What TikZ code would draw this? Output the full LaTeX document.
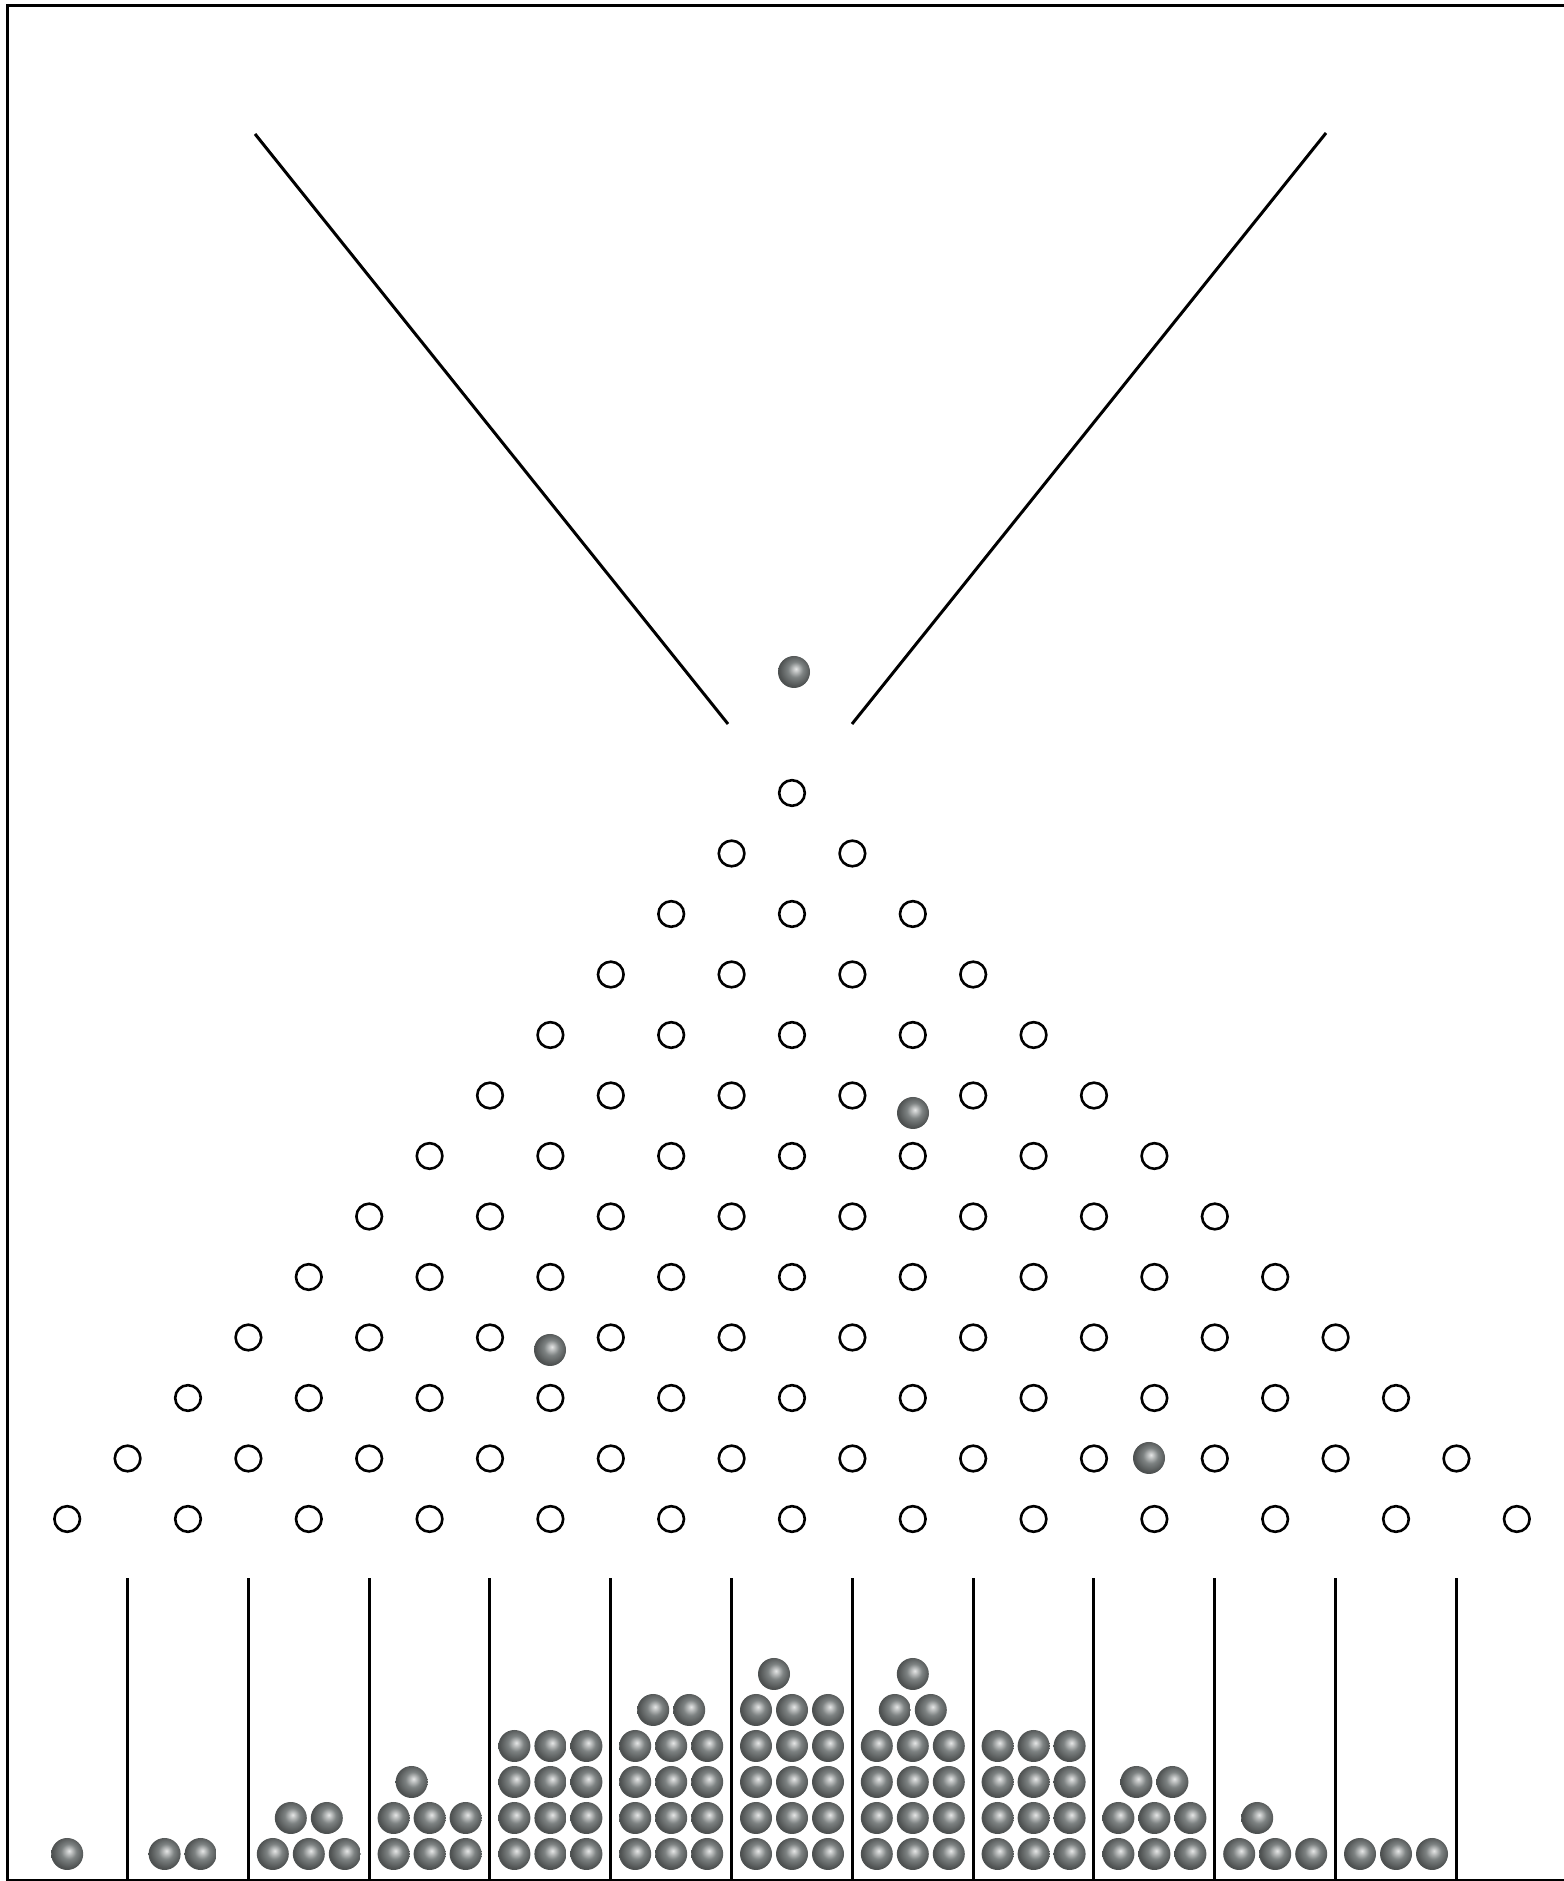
\documentclass[tikz,border=0pt]{standalone}
\usepackage{tikz}
\usepackage{xcolor}
\definecolor{ball_gray}{HTML}{7D8282}
\usetikzlibrary{calc}
\pgfdeclareradialshading{BALLSHADE}{\pgfpoint{3bp}{5bp}}{color(0bp)=(ball_gray!20!white); color(3bp)=(ball_gray!40!white); color(12bp)=(ball_gray); color(25bp)=(ball_gray!62!black); color(50bp)=(ball_gray!62!black)}
\tikzset{PEG/.style={circle,draw,line width=0.26mm,minimum size=2.56mm,inner sep=0pt}}
\tikzset{BALL/.style={circle,shading=BALLSHADE,minimum size=3.2mm,inner sep=0pt}}
\tikzset{WALL/.style={line width=0.3mm}}

\begin{document}
\begin{tikzpicture}[x=0.1mm,y=0.1mm]

\useasboundingbox (0,0) rectangle (1564,1881);

\draw[WALL] (1564,1875) -- (7,1875) -- (7,1) -- (1564,1);

\coordinate (c_funnel_left_top) at (255,1747);
\coordinate (c_funnel_left_end) at (728,1157);
\coordinate (c_funnel_right_top) at (1326,1748);
\coordinate (c_funnel_right_end) at (852,1157);
\draw[WALL] (c_funnel_left_top) -- (c_funnel_left_end);
\draw[WALL] (c_funnel_right_top) -- (c_funnel_right_end);

\node[BALL] (n_ball_drop) at (794,1209) {};

\foreach \r in {1,...,13} {
    \foreach \k in {1,...,\r} {
        \node[PEG] (n_peg_\r_\k) at ({792+(\k-(\r+1)/2)*120.8},{1088-(\r-1)*60.5}) {};
    }
}

\node[BALL] (n_ball_fall_a) at (913,768) {};
\node[BALL] (n_ball_fall_b) at (550,531) {};
\node[BALL] (n_ball_fall_c) at (1149,423) {};

\foreach \k in {0,...,11} {
    \coordinate (c_wall_bottom_\k) at ({127.4+\k*120.8},1);
    \coordinate (c_wall_top_\k) at ({127.4+\k*120.8},303);
    \draw[WALL] (c_wall_bottom_\k) -- (c_wall_top_\k);
}

\foreach \rows [count=\b from 0] in {{1/0},{2/-0.15},{3/0,2/0},{3/0,3/0,1/-0.5},{3/0,3/0,3/0,3/0},{3/0,3/0,3/0,3/0,2/0},{3/0,3/0,3/0,3/0,3/0,1/-0.5},{3/0,3/0,3/0,3/0,2/0,1/0},{3/0,3/0,3/0,3/0},{3/0,3/0,2/0},{3/0,1/-0.5},{3/0}} {
    \foreach \n/\s [count=\j from 0] in \rows {
        \foreach \i in {1,...,\n} {
            \node[BALL] (n_ball_\b_\j_\i) at ({67.2+\b*120.8+(\i-(\n+1)/2+\s)*36},{27+\j*36}) {};
        }
    }
}

\end{tikzpicture}
\end{document}
